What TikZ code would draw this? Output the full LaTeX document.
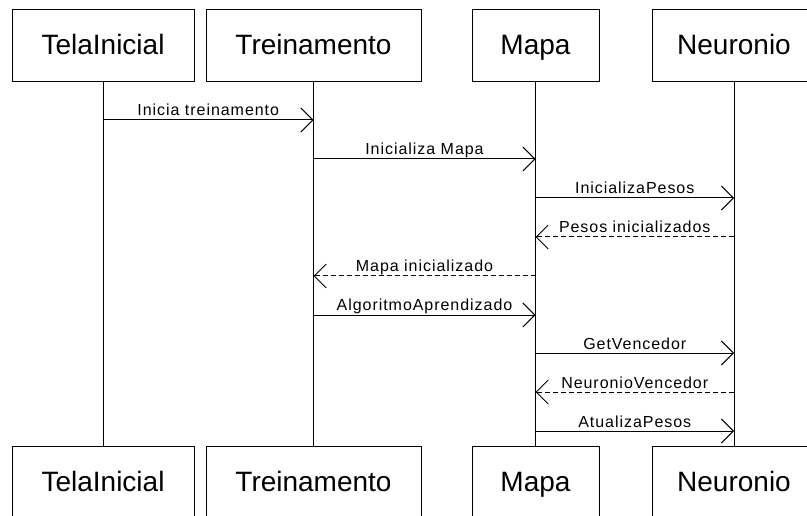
\documentclass[tikz,border=0pt]{standalone}
\usepackage{fontspec}
\setmainfont{Liberation Sans}
\usetikzlibrary{arrows.meta}
\begin{document}
\begin{tikzpicture}[x=1pt,y=-1pt,line width=1pt,
  obj/.style={draw, minimum height=72pt, inner sep=0pt, text height=20pt, text depth=2pt, font=\fontsize{28}{30}\selectfont},
  msg/.style={-{Straight Barb[length=12pt,width=24pt]}},
  ret/.style={msg, dash pattern=on 5pt off 3pt},
  lbl/.style={anchor=base, inner sep=0pt, yshift=4pt, font=\fontsize{16}{18}\selectfont\addfontfeature{LetterSpace=6}}]
\useasboundingbox (0,0) rectangle (807,516);
\clip (0,0) rectangle (807,516);
% top objects
\node[obj, minimum width=182pt] (a1) at (103,46) {TelaInicial};
\node[obj, minimum width=215pt] (b1) at (313.5,46) {Treinamento};
\node[obj, minimum width=127pt] (c1) at (535.5,46) {Mapa};
\node[obj, minimum width=164pt] (d1) at (734,46) {Neuronio};
% bottom objects
\node[obj, minimum width=182pt] (a2) at (103,482) {TelaInicial};
\node[obj, minimum width=215pt] (b2) at (313.5,482) {Treinamento};
\node[obj, minimum width=127pt] (c2) at (535.5,482) {Mapa};
\node[obj, minimum width=164pt] (d2) at (734,482) {Neuronio};
% lifelines
\draw (a1.south) -- (a2.north);
\draw (b1.south) -- (b2.north);
\draw (c1.south) -- (c2.north);
\draw (d1.south) -- (d2.north);
% message rows
\coordinate (m1) at (0,120);
\coordinate (m2) at (0,159);
\coordinate (m3) at (0,198);
\coordinate (m4) at (0,237);
\coordinate (m5) at (0,276);
\coordinate (m6) at (0,315);
\coordinate (m7) at (0,353);
\coordinate (m8) at (0,392);
\coordinate (m9) at (0,431);
\draw[msg] (a1 |- m1) -- node[lbl] {Inicia treinamento} (b1 |- m1);
\draw[msg] (b1 |- m2) -- node[lbl] {Inicializa Mapa} (c1 |- m2);
\draw[msg] (c1 |- m3) -- node[lbl] {InicializaPesos} (d1 |- m3);
\draw[ret] (d1 |- m4) -- node[lbl] {Pesos inicializados} (c1 |- m4);
\draw[ret] (c1 |- m5) -- node[lbl] {Mapa inicializado} (b1 |- m5);
\draw[msg] (b1 |- m6) -- node[lbl] {AlgoritmoAprendizado} (c1 |- m6);
\draw[msg] (c1 |- m7) -- node[lbl] {GetVencedor} (d1 |- m7);
\draw[ret] (d1 |- m8) -- node[lbl] {NeuronioVencedor} (c1 |- m8);
\draw[msg] (c1 |- m9) -- node[lbl] {AtualizaPesos} (d1 |- m9);
\end{tikzpicture}
\end{document}
